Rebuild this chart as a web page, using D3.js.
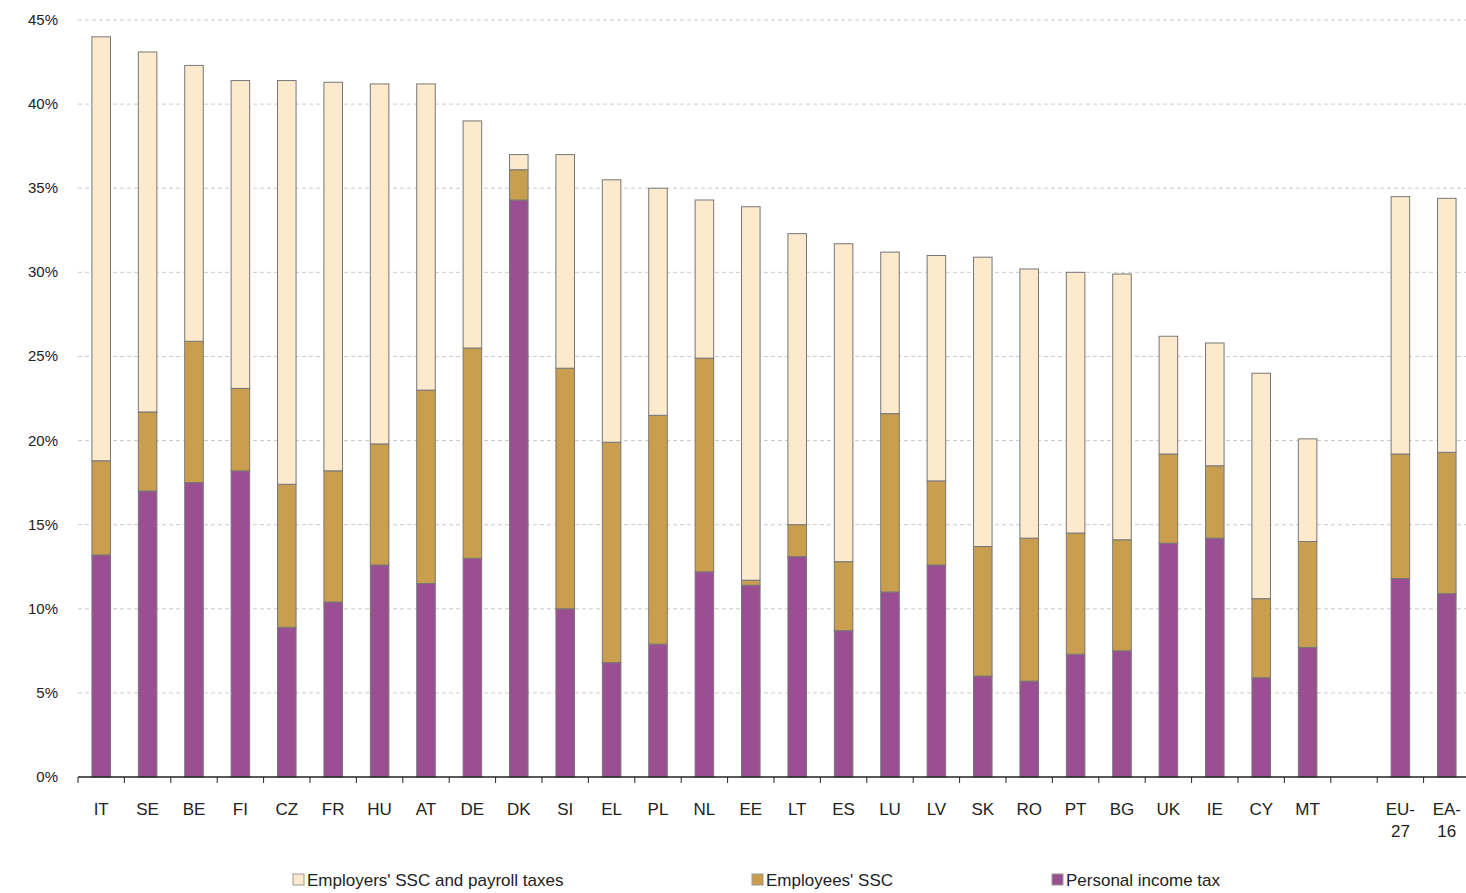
<!DOCTYPE html>
<html><head><meta charset="utf-8">
<script src="https://cdn.jsdelivr.net/npm/d3@7"></script>
<style>body{margin:0;background:#fff}</style>
</head><body>
<svg width="1466" height="893"></svg>
<script>
const countries = ["IT","SE","BE","FI","CZ","FR","HU","AT","DE","DK","SI","EL","PL","NL","EE","LT","ES","LU","LV","SK","RO","PT","BG","UK","IE","CY","MT","","EU-27","EA-16"];
const incomeTax = [13.2,17,17.5,18.2,8.9,10.4,12.6,11.5,13,34.3,10,6.8,7.9,12.2,11.4,13.1,8.7,11,12.6,6,5.7,7.3,7.5,13.9,14.2,5.9,7.7,null,11.8,10.9];
const employeesSSC = [5.6,4.7,8.4,4.9,8.5,7.8,7.2,11.5,12.5,1.8,14.3,13.1,13.6,12.7,0.3,1.9,4.1,10.6,5,7.7,8.5,7.2,6.6,5.3,4.3,4.7,6.3,null,7.4,8.4];
const employersSSC = [25.2,21.4,16.4,18.3,24,23.1,21.4,18.2,13.5,0.9,12.7,15.6,13.5,9.4,22.2,17.3,18.9,9.6,13.4,17.2,16,15.5,15.8,7,7.3,13.4,6.1,null,15.3,15.1];
const seriesNames = ["Employers' SSC and payroll taxes","Employees' SSC","Personal income tax"];
const yTicks = [0,5,10,15,20,25,30,35,40,45];

const svg = d3.select("svg");
const mLeft = 78, mRight = 1470, mTop = 20, mBottom = 777;
const x = d3.scaleBand().domain(d3.range(countries.length)).range([mLeft, mRight]).paddingInner(0.6).paddingOuter(0.3);
const y = d3.scaleLinear().domain([0,45]).range([mBottom, mTop]);

// gridlines
svg.append("g").selectAll("line").data(yTicks.slice(1)).enter().append("line")
  .attr("x1", mLeft).attr("x2", 1466).attr("y1", d => y(d)).attr("y2", d => y(d))
  .attr("stroke", "#ccc").attr("stroke-dasharray", "4,3");

svg.append("g").selectAll("text").data(yTicks).enter().append("text")
  .attr("x", 58).attr("y", d => y(d) + 5).attr("text-anchor", "end")
  .attr("font-family", "Liberation Sans, Arial").attr("font-size", 15).attr("fill", "#222")
  .text(d => d + "%");

const colors = ["#fde9cc", "#c99e4e", "#9a4f92"];
const rows = countries.map((c, i) => ({i, c, a: incomeTax[i], b: employeesSSC[i], e: employersSSC[i]})).filter(d => d.a != null);
const g = svg.append("g");
rows.forEach(d => {
  const segs = [[0, d.a, colors[2]], [d.a, d.a + d.b, colors[1]], [d.a + d.b, d.a + d.b + d.e, colors[0]]];
  segs.forEach(s => {
    g.append("rect").attr("x", x(d.i)).attr("width", x.bandwidth())
      .attr("y", y(s[1])).attr("height", y(s[0]) - y(s[1]))
      .attr("fill", s[2]).attr("stroke", "#777").attr("stroke-width", 1);
  });
});

// x axis
svg.append("line").attr("x1", mLeft).attr("x2", 1466).attr("y1", mBottom).attr("y2", mBottom).attr("stroke", "#222").attr("stroke-width", 1.5);
const step = x.step();
const x0 = x(0) - step * 0.3;
svg.append("g").selectAll("line").data(d3.range(countries.length + 1)).enter().append("line")
  .attr("x1", d => x0 + d * step).attr("x2", d => x0 + d * step)
  .attr("y1", mBottom).attr("y2", mBottom + 6).attr("stroke", "#222");
svg.append("g").selectAll("text").data(countries.map((c, i) => ({c, i}))).enter().append("text")
  .attr("x", d => x(d.i) + x.bandwidth() / 2).attr("y", 815).attr("text-anchor", "middle")
  .attr("font-family", "Liberation Sans, Arial").attr("font-size", 17).attr("fill", "#222")
  .each(function(d) {
    const parts = d.c.includes("-") ? [d.c.split("-")[0] + "-", d.c.split("-")[1]] : [d.c];
    parts.forEach((p, k) => d3.select(this).append("tspan").attr("x", x(d.i) + x.bandwidth() / 2).attr("dy", k ? 22 : 0).text(p));
  });

// legend
const lx = [293, 752, 1052];
seriesNames.forEach((n, k) => {
  svg.append("rect").attr("x", lx[k]).attr("y", 874).attr("width", 11).attr("height", 11)
    .attr("fill", colors[k]).attr("stroke", "#999");
  svg.append("text").attr("x", lx[k] + 14).attr("y", 886).attr("font-family", "Liberation Sans, Arial")
    .attr("font-size", 17).attr("fill", "#222").text(n);
});
</script>
</body></html>
